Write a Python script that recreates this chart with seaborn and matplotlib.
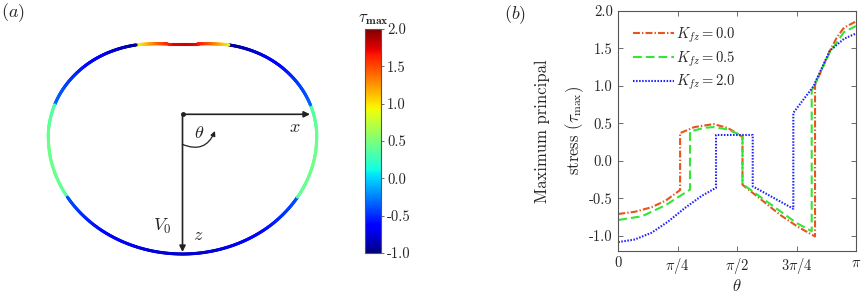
import numpy as np
import pandas as pd
import matplotlib
matplotlib.use("Agg")
import matplotlib.pyplot as plt
from matplotlib.collections import LineCollection
import seaborn as sns

sns.set_theme(style="ticks")
plt.rcParams['font.family'] = ['cmr10', 'DejaVu Serif']
plt.rcParams['mathtext.fontset'] = 'cm'
plt.rcParams['axes.unicode_minus'] = False
plt.rcParams['axes.formatter.use_mathtext'] = True
plt.rcParams['lines.scale_dashes'] = False

# --- panel (b) data: theta in units of pi, maximum principal stress ---
theta_k00 = [0.0, 0.07, 0.14, 0.20, 0.26, 0.26, 0.32, 0.40, 0.46, 0.5225, 0.5225,
             0.61, 0.68, 0.75, 0.8276, 0.8276, 0.89, 0.92, 0.95, 1.0]
tau_k00 = [-0.71, -0.68, -0.62, -0.53, -0.39, 0.37, 0.45, 0.49, 0.44, 0.32, -0.32,
           -0.54, -0.72, -0.87, -1.01, 1.01, 1.47, 1.65, 1.78, 1.86]

theta_k05 = [0.0, 0.10, 0.20, 0.3016, 0.3016, 0.36, 0.40, 0.46, 0.5225, 0.5225,
             0.61, 0.68, 0.75, 0.8137, 0.8137, 0.89, 0.95, 1.0]
tau_k05 = [-0.79, -0.74, -0.59, -0.385, 0.39, 0.44, 0.45, 0.42, 0.33, -0.31,
           -0.51, -0.67, -0.83, -0.94, 0.94, 1.45, 1.72, 1.80]

theta_k20 = [0.0, 0.07, 0.14, 0.21, 0.28, 0.35, 0.411, 0.411, 0.5655, 0.5655,
             0.7363, 0.7363, 0.82, 0.89, 0.95, 1.0]
tau_k20 = [-1.085, -1.05, -0.96, -0.81, -0.63, -0.47, -0.36, 0.345, 0.345, -0.34,
           -0.64, 0.64, 0.99, 1.47, 1.63, 1.70]

labels = [r'$K_{fz} = 0.0$', r'$K_{fz} = 0.5$', r'$K_{fz} = 2.0$']
colors = ['#e8541e', '#33e633', '#1f1fff']
dash_styles = [(5, 1.5, 1, 1.5), (6.3, 2.9), (1.1, 1.1)]

# --- panel (a) data: half contour (x right, z down), bottom -> top ---
contour_x = [0, 23.3, 45.9, 67.1, 86.3, 102.8, 116.2, 126.1, 132.2, 134.2, 132.6,
             127.9, 120.2, 109.8, 97.0, 82.1, 65.6, 48.1, 30, 15, 0]
contour_z = [139.7, 137.9, 132.6, 124.0, 112.3, 97.8, 81.1, 62.5, 42.8, 22.4, 6.3,
             -9.4, -24.1, -37.3, -48.8, -58.1, -64.9, -69.1, -70.5, -70.5, -70.5]

fig = plt.figure(figsize=(8.64, 2.98), dpi=100)

# ---------------- panel (a) ----------------
ax1 = fig.add_axes([0, 0, 335 / 864, 1])
ax1.set_xlim(-182.5, 152.5)
ax1.set_ylim(183.7, -114.3)
ax1.axis('off')

# closed loop: right half bottom->top, then mirrored left half top->bottom
cx = np.array(contour_x, float)
cz = np.array(contour_z, float)
loop = np.column_stack([np.concatenate([cx, -cx[-2:0:-1]]),
                        np.concatenate([cz, cz[-2:0:-1]])])
n = len(loop)
# smooth the loop with a closed Catmull-Rom curve so it is not drawn as a polygon
t = np.linspace(0, 1, 20, endpoint=False)[:, None]
smooth = []
for i in range(n):
    p0, p1, p2, p3 = loop[i - 1], loop[i], loop[(i + 1) % n], loop[(i + 2) % n]
    smooth.append(0.5 * (2 * p1 + (-p0 + p2) * t + (2 * p0 - 5 * p1 + 4 * p2 - p3) * t ** 2
                         + (-p0 + 3 * p1 - 3 * p2 + p3) * t ** 3))
smooth = np.vstack(smooth + [loop[:1]])
segs = np.stack([smooth[:-1], smooth[1:]], axis=1)
mid = segs.mean(axis=1)
th = np.arctan2(np.abs(mid[:, 0]), mid[:, 1]) / np.pi
vals = np.interp(th, theta_k05, tau_k05)

norm = plt.Normalize(-1, 2)
lc = LineCollection(segs, cmap='jet', norm=norm, linewidths=2.2, capstyle='round')
lc.set_array(vals)
ax1.add_collection(lc)

arrow_kw = dict(arrowstyle='-|>', mutation_scale=9, lw=1.2, color='#222222',
                shrinkA=0, shrinkB=0)
ax1.annotate('', xy=(127.5, 0), xytext=(0, 0), arrowprops=arrow_kw)
ax1.annotate('', xy=(0, 137.7), xytext=(0, 0), arrowprops=arrow_kw)
ax1.plot([0], [0], 'o', color='#222222', ms=2.5)
ax1.annotate('', xy=(32.5, 16.7), xytext=(-0.2, 30),
             arrowprops=dict(arrowstyle='-|>', mutation_scale=7, lw=0.9, color='#222222',
                             shrinkA=0, shrinkB=0, connectionstyle='arc3,rad=0.5'))
ax1.text(112.5, 12.7, r'$x$', fontsize=13, ha='center', va='center')
ax1.text(16.8, 19, r'$\theta$', fontsize=13, ha='center', va='center')
ax1.text(-20.8, 112.4, r'$V_0$', fontsize=13, ha='center', va='center')
ax1.text(15.5, 120.7, r'$z$', fontsize=13, ha='center', va='center')
ax1.text(-181.5, -101.3, r'$(a)$', fontsize=13, ha='left', va='center')

# colorbar
cax = fig.add_axes([365 / 864, 45 / 298, 16 / 864, 224 / 298])
sm = plt.cm.ScalarMappable(cmap='jet', norm=norm)
cb = fig.colorbar(sm, cax=cax, ticks=[-1.0, -0.5, 0.0, 0.5, 1.0, 1.5, 2.0])
cb.ax.set_yticklabels(['-1.0', '-0.5', '0.0', '0.5', '1.0', '1.5', '2.0'])
cb.ax.tick_params(labelsize=10.5, length=2.5, width=0.6, color='#555555', pad=2)
cb.outline.set_edgecolor('#555555')
cb.outline.set_linewidth(0.8)
cax.set_title(r'$\tau_{\mathbf{max}}$', fontsize=12, pad=5)

# ---------------- panel (b) ----------------
ax2 = fig.add_axes([618.3 / 864, 47.3 / 298, 237.7 / 864, 239.7 / 298])
series = [(theta_k00, tau_k00), (theta_k05, tau_k05), (theta_k20, tau_k20)]
for (thv, tau), lab, col, dsh in zip(series, labels, colors, dash_styles):
    df = pd.DataFrame({'theta': np.array(thv) * np.pi, 'tau': tau})
    sns.lineplot(data=df, x='theta', y='tau', ax=ax2, sort=False, estimator=None,
                 color=col, lw=1.5, label=lab)
    ax2.lines[-1].set_dashes(dsh)

ax2.set_xlim(0, np.pi)
ax2.set_ylim(-1.2, 2.0)
ax2.set_xticks([0, np.pi / 4, np.pi / 2, 3 * np.pi / 4, np.pi])
ax2.set_xticklabels(['0', r'$\pi/4$', r'$\pi/2$', r'$3\pi/4$', r'$\pi$'])
ax2.set_yticks([-1.0, -0.5, 0.0, 0.5, 1.0, 1.5, 2.0])
ax2.set_yticklabels(['-1.0', '-0.5', '0.0', '0.5', '1.0', '1.5', '2.0'])
ax2.tick_params(direction='in', top=True, right=True, labelsize=10.5, length=3.5,
                width=0.6, color='#555555', pad=4)
for sp in ax2.spines.values():
    sp.set_color('#555555')
    sp.set_linewidth(0.8)
ax2.set_xlabel(r'$\theta$', fontsize=12, labelpad=1)
ax2.set_ylabel('Maximum principal\nstress ($\\tau_{\\max}$)', fontsize=12,
               linespacing=1.85, labelpad=2)
ax2.legend(loc='upper left', frameon=False, fontsize=10.5, handlelength=2.8,
           labelspacing=0.3, borderaxespad=0.6, handletextpad=0.15)
fig.text(515 / 864, 1 - 15 / 298, r'$(b)$', fontsize=13, ha='center', va='center')

fig.savefig('out.png', dpi=100)
